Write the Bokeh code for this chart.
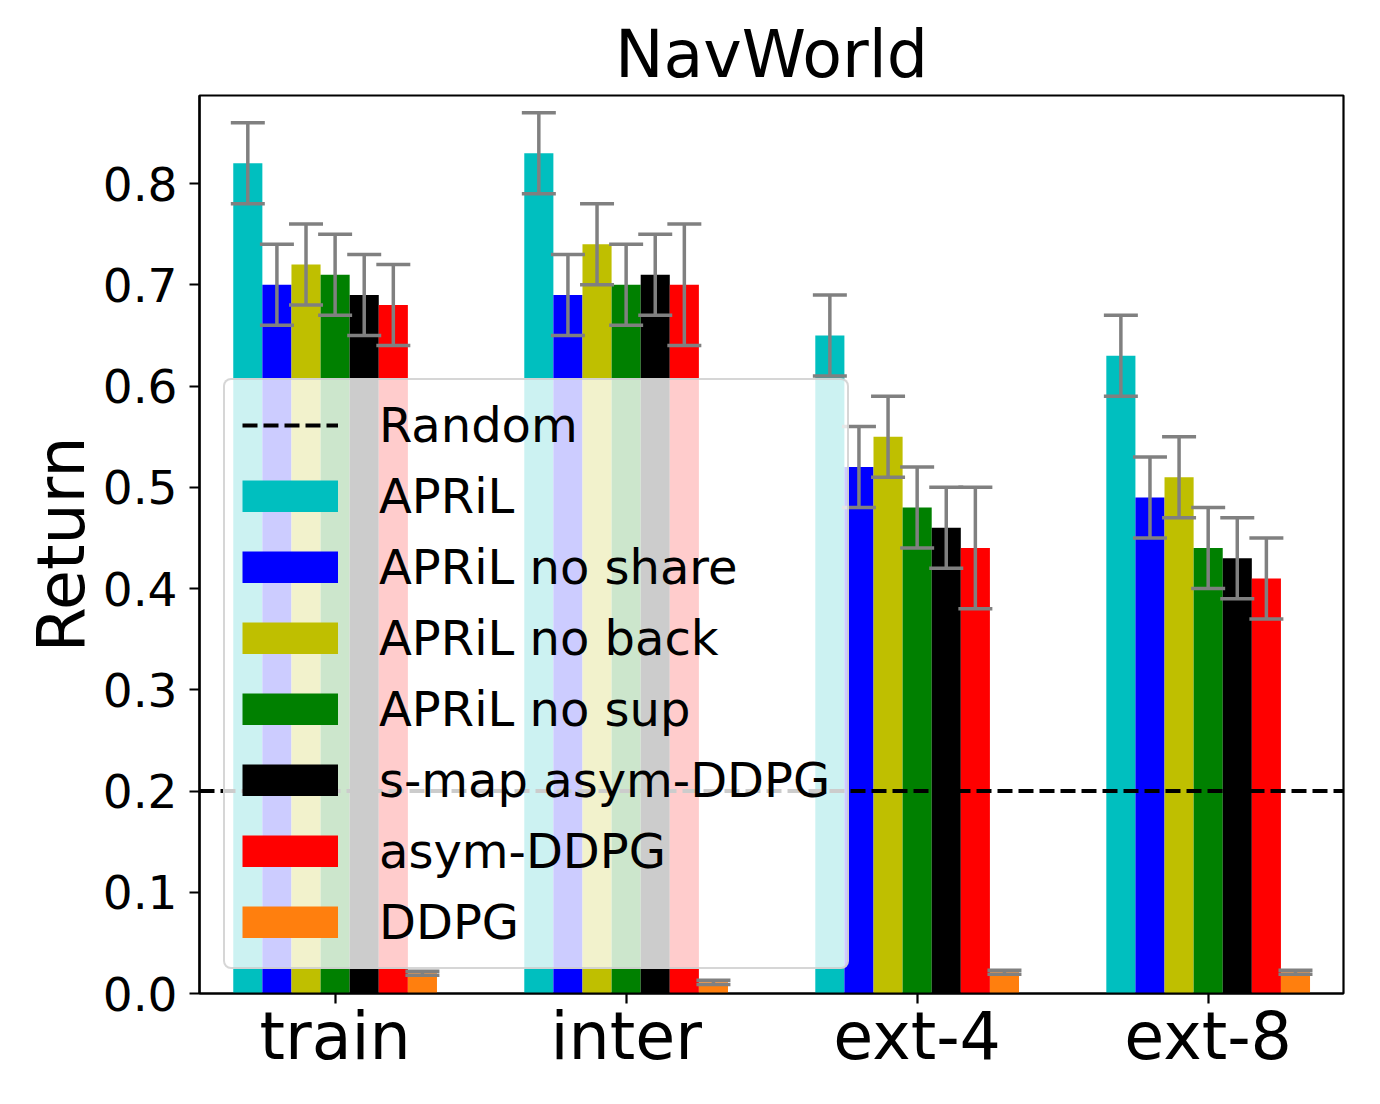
import numpy as np
from bokeh.plotting import figure
from bokeh.models import (ColumnDataSource, Whisker, TeeHead, FixedTicker, Range1d,
                          Legend, LegendItem, PrintfTickFormatter)
from bokeh.embed import file_html
from bokeh.resources import INLINE

# ---------------- data ----------------
categories = ["train", "inter", "ext-4", "ext-8"]

series_names = ["APRiL", "APRiL no share", "APRiL no back", "APRiL no sup",
                "s-map asym-DDPG", "asym-DDPG", "DDPG"]
series_colors = ["#00bfbf", "#0000ff", "#bfbf00", "#008000",
                 "#000000", "#ff0000", "#ff7f0e"]

april = [0.82, 0.83, 0.65, 0.63]
april_err = [0.04, 0.04, 0.04, 0.04]
april_no_share = [0.70, 0.69, 0.52, 0.49]
april_no_share_err = [0.04, 0.04, 0.04, 0.04]
april_no_back = [0.72, 0.74, 0.55, 0.51]
april_no_back_err = [0.04, 0.04, 0.04, 0.04]
april_no_sup = [0.71, 0.70, 0.48, 0.44]
april_no_sup_err = [0.04, 0.04, 0.04, 0.04]
smap_asym_ddpg = [0.69, 0.71, 0.46, 0.43]
smap_asym_ddpg_err = [0.04, 0.04, 0.04, 0.04]
asym_ddpg = [0.68, 0.70, 0.44, 0.41]
asym_ddpg_err = [0.04, 0.06, 0.06, 0.04]
ddpg = [0.02, 0.011, 0.021, 0.021]
ddpg_err = [0.002, 0.002, 0.002, 0.002]

series_values = [april, april_no_share, april_no_back, april_no_sup,
                 smap_asym_ddpg, asym_ddpg, ddpg]
series_errors = [april_err, april_no_share_err, april_no_back_err, april_no_sup_err,
                 smap_asym_ddpg_err, asym_ddpg_err, ddpg_err]

random_return = 0.2
y_ticks = [0.0, 0.1, 0.2, 0.3, 0.4, 0.5, 0.6, 0.7, 0.8]

# ---------------- layout constants ----------------
BAR_W = 0.1
X_LO, X_HI = -0.466, 3.465
Y_LO, Y_HI = 0.0, 0.887
FONT = "DejaVu Sans"

p = figure(width=1364, height=1088,
           x_range=Range1d(X_LO, X_HI), y_range=Range1d(Y_LO, Y_HI),
           output_backend="svg", toolbar_location=None,
           min_border_left=199, min_border_right=21,
           min_border_top=95, min_border_bottom=95)

p.background_fill_color = "white"
p.border_fill_color = "white"
p.outline_line_color = "black"
p.outline_line_width = 2.2
p.xgrid.grid_line_color = None
p.ygrid.grid_line_color = None

legend_proxies = []
n_series = len(series_names)
for j, (vals, errs, color) in enumerate(zip(series_values, series_errors, series_colors)):
    off = (j - (n_series - 1) / 2) * BAR_W
    xs = np.array([i + off for i in range(len(categories))], dtype=float)
    src = ColumnDataSource(dict(
        x=xs, top=vals,
        upper=[v + e for v, e in zip(vals, errs)],
        lower=[v - e for v, e in zip(vals, errs)],
    ))
    p.vbar(x="x", top="top", width=BAR_W, bottom=0, source=src,
           fill_color=color, line_color=None)
    w = Whisker(base="x", upper="upper", lower="lower", source=src,
                level="annotation",
                line_color="#808080", line_width=3.5,
                upper_head=TeeHead(size=34, line_color="#808080", line_width=3.5),
                lower_head=TeeHead(size=34, line_color="#808080", line_width=3.5))
    p.add_layout(w)
    # invisible (all-NaN) proxy line, used only for a solid legend swatch
    proxy = p.line(x=xs, y=np.full(len(xs), np.nan), line_color=color,
                   line_width=32, line_cap="butt")
    legend_proxies.append(proxy)

random_r = p.line(x=[X_LO, X_HI], y=[random_return, random_return],
                  line_color="black", line_width=4, line_dash="15 6")

# axes
p.xaxis.ticker = FixedTicker(ticks=list(range(len(categories))))
p.xaxis.major_label_overrides = {i: c for i, c in enumerate(categories)}
p.yaxis.ticker = FixedTicker(ticks=y_ticks)
p.yaxis.formatter = PrintfTickFormatter(format="%.1f")
p.yaxis.axis_label = "Return"

for ax in (p.xaxis[0], p.yaxis[0]):
    ax.axis_line_color = "black"
    ax.axis_line_width = 2.2
    ax.major_tick_line_color = "black"
    ax.major_tick_line_width = 2.2
    ax.major_tick_out = 10
    ax.major_tick_in = 0
    ax.minor_tick_line_color = None
    ax.major_label_text_font = FONT
    ax.major_label_text_color = "black"
    ax.axis_label_text_font = FONT
    ax.axis_label_text_font_style = "normal"
    ax.axis_label_text_color = "black"

p.xaxis.major_label_text_font_size = "65px"
p.xaxis.major_label_standoff = -5
p.yaxis.major_label_text_font_size = "47px"
p.yaxis.major_label_standoff = 12
p.yaxis.axis_label_text_font_size = "65px"
p.yaxis.axis_label_standoff = 1

p.title.text = "NavWorld"
p.title.align = "center"
p.title.text_font = FONT
p.title.text_font_size = "65px"
p.title.text_font_style = "normal"
p.title.text_color = "black"
p.title.standoff = 8

items = [LegendItem(label="Random", renderers=[random_r])]
for name, r in zip(series_names, legend_proxies):
    items.append(LegendItem(label=name, renderers=[r]))

legend = Legend(items=items, location=(24, 24), margin=0,
                label_text_font=FONT, label_text_font_size="48px",
                label_text_color="black",
                glyph_width=96, glyph_height=32, label_standoff=41,
                padding=17, spacing=15,
                background_fill_color="white", background_fill_alpha=0.8,
                border_line_color="#cccccc", border_line_width=2.2,
                border_line_alpha=0.8)
if "border_radius" in Legend.properties():
    legend.border_radius = 8
p.add_layout(legend)

open("out.html", "w").write(file_html(p, INLINE))
